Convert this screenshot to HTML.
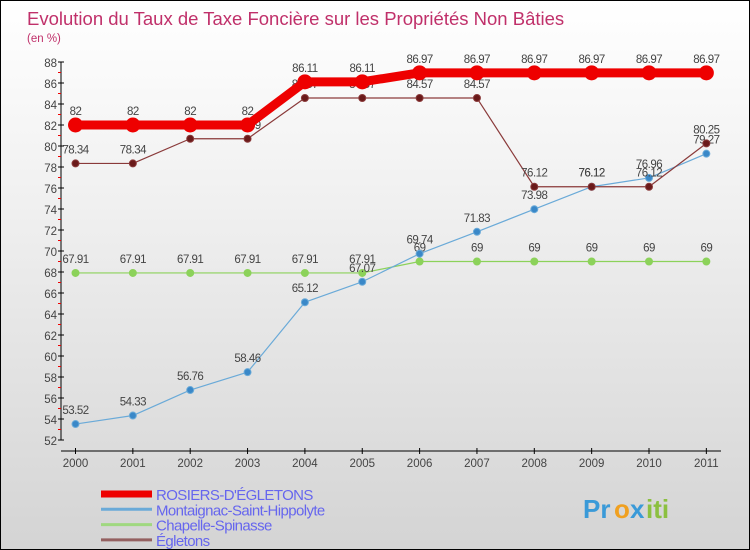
<!DOCTYPE html>
<html><head><meta charset="utf-8"><style>
body{margin:0}
#c{width:748px;height:548px;border:1px solid #000;background:linear-gradient(#fff,#f3f3f3 30%,#d4d4d4);position:relative;font-family:"Liberation Sans",sans-serif;overflow:hidden}
</style></head><body>
<div id="c">
<svg id="s" width="748" height="548"></svg>
</div>
<script>
const years=["2000","2001","2002","2003","2004","2005","2006","2007","2008","2009","2010","2011"];
const rosiers=[82,82,82,82,86.11,86.11,86.97,86.97,86.97,86.97,86.97,86.97];
const montaignac=[53.52,54.33,56.76,58.46,65.12,67.07,69.74,71.83,73.98,76.12,76.96,79.27];
const chapelle=[67.91,67.91,67.91,67.91,67.91,67.91,69,69,69,69,69,69];
const egletons=[78.34,78.34,80.69,80.69,84.57,84.57,84.57,84.57,76.12,76.12,76.12,80.25];
const yTicks=[52,54,56,58,60,62,64,66,68,70,72,74,76,78,80,82,84,86,88];
const s=document.getElementById('s');const NS='http://www.w3.org/2000/svg';
function el(t,a,txt){const e=document.createElementNS(NS,t);for(const k in a)e.setAttribute(k,a[k]);if(txt!==undefined)e.textContent=txt;s.appendChild(e);return e;}
const X=i=>74.5+i*57.35, Y=v=>439-(v-52)*(378/36);
let t=el('text',{x:26,y:24,fill:'#c0306a','font-size':18.5},'Evolution du Taux de Taxe Foncière sur les Propriétés Non Bâties');

t=el('text',{x:26,y:41,fill:'#c0306a','font-size':11.5},'(en %)');

let a=el('line',{x1:60,y1:Y(88),x2:60,y2:Y(52),stroke:'#000','stroke-width':1});

a=el('line',{x1:60,y1:450,x2:720,y2:450,stroke:'#000','stroke-width':1});

yTicks.forEach((v,i)=>{el('line',{x1:57,x2:63,y1:Y(v),y2:Y(v),stroke:'#000'});
 if(i<yTicks.length-1)el('line',{x1:57,x2:60,y1:Y(v+1),y2:Y(v+1),stroke:'#e00'});
 const l=el('text',{x:56,y:Y(v)+5,'text-anchor':'end','font-size':11.5,fill:'#444'},v);
 });
years.forEach((y,i)=>{el('line',{x1:X(i),x2:X(i),y1:447,y2:453,stroke:'#000'});
 const l=el('text',{x:X(i),y:466,'text-anchor':'middle','font-size':11.5,fill:'#444'},y);
 });
function series(d,color,w,r,dot,name){
 const p=el('polyline',{points:d.map((v,i)=>X(i)+','+Y(v)).join(' '),fill:'none',stroke:color,'stroke-width':w,'stroke-linejoin':'round'});
 
 d.forEach((v,i)=>{const c=el('circle',{cx:X(i),cy:Y(v),r:r,fill:dot,stroke:color,'stroke-width':1});
  
  const l=el('text',{x:X(i),y:Y(v)-10,'text-anchor':'middle','font-size':11.5,fill:'#444','letter-spacing':'-0.5'},v);
  });
}
series(chapelle,'#8cd25a',1.2,3.5,'#8cd25a','chapelle');
series(montaignac,'#6aaad8',1.2,3.5,'#3a88c8','montaignac');
series(egletons,'#8a3a3a',1.2,3.5,'#6a1a1a','egletons');
series(rosiers,'#ee0000',9,7,'#ee0000','rosiers');
const leg=[['ROSIERS-D\'ÉGLETONS','#ee0000',7],['Montaignac-Saint-Hippolyte','#6aaad8',3],['Chapelle-Spinasse','#a0d880',3],['Égletons','#946060',3]];
leg.forEach((g,i)=>{const y=493+i*15.3;
 let l=el('line',{x1:100,x2:151,y1:y,y2:y,stroke:g[1],'stroke-width':g[2]});
 
 l=el('text',{x:155,y:y+6,'font-size':15,fill:'#6666ee','letter-spacing':'-0.6'},g[0]);
 });
t=el('text',{x:582,y:517,'font-size':26,'font-weight':'bold',fill:'#3a9ad8'},'Pr');

el('text',{x:613,y:517,'font-size':26,'font-weight':'bold',fill:'#f0a020'},'o');
el('text',{x:629,y:517,'font-size':26,'font-weight':'bold',fill:'#3a9ad8'},'x');
el('text',{x:645,y:517,'font-size':26,'font-weight':'bold',fill:'#8cc040'},'iti');
</script>
</body></html>
